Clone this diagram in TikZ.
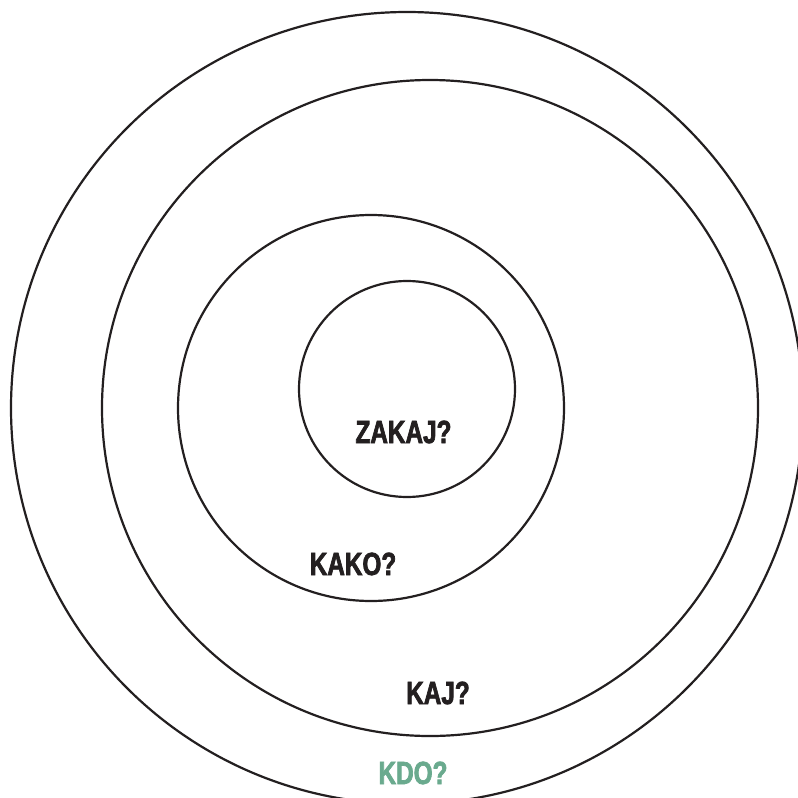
\documentclass[tikz,border=0pt]{standalone}
\usepackage{fontspec}
\newfontfamily\labfont[FakeStretch=0.76,FakeBold=2.2,BoldFont={Liberation Sans Bold}]{Liberation Sans Bold}
\definecolor{ink}{RGB}{35,31,32}
\definecolor{kdogreen}{RGB}{106,170,142}
\begin{document}
\begin{tikzpicture}[x=1pt,y=-1pt,
  ring/.style={draw=ink,circle,line width=2.2pt,inner sep=0pt},
  lab/.style={anchor=base,inner sep=0pt,text=ink,font=\labfont\fontsize{32}{32}\selectfont}]
\useasboundingbox (0,0) rectangle (798,798);
\clip (0,0) rectangle (798,798);
\fill[white] (0,0) rectangle (798,798);
\node[ring,minimum size=792pt] (c1) at (407,408) {};
\node[ring,minimum size=656pt] (c2) at (430,408) {};
\node[ring,minimum size=386pt] (c3) at (371,408) {};
\node[ring,minimum size=216pt] (c4) at (407,389) {};
\node[lab] (zakaj) at (403.5,443) {ZAKAJ?};
\node[lab] (kako) at (353,575) {KAKO?};
\node[lab] (kaj) at (438,704) {KAJ?};
\node[lab,text=kdogreen] (kdo) at (413,784) {KDO?};
\end{tikzpicture}
\end{document}
